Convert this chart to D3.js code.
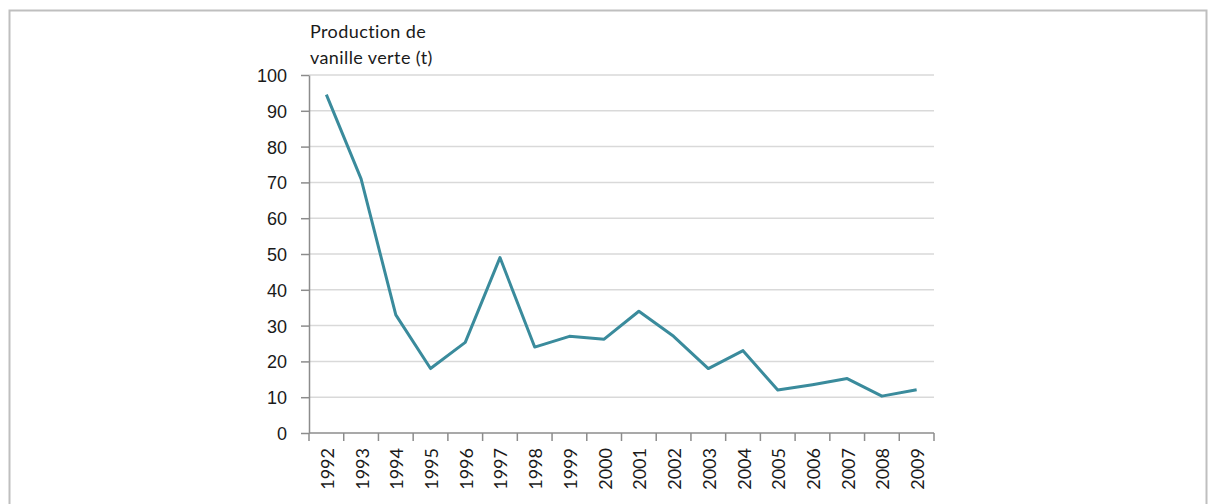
<!DOCTYPE html>
<html>
<head>
<meta charset="utf-8">
<script src="https://cdn.jsdelivr.net/npm/d3@7"></script>
<style>
    body { margin: 0; background: #fff; }
    svg { display: block; font-family: Lato, "Open Sans", sans-serif; }
    .grid line { stroke: #d9d9d9; stroke-width: 1.5; }
    .axis path, .axis line { stroke: #8c8c8c; stroke-width: 1.5; }
    .axis text { fill: #1a1a1a; font-size: 18px; }
</style>
</head>
<body>
<div id="chart"></div>
<script>
var years = ["1992", "1993", "1994", "1995", "1996", "1997", "1998", "1999", "2000",
    "2001", "2002", "2003", "2004", "2005", "2006", "2007", "2008", "2009"];
var production = [94.5, 71, 33, 18, 25.3, 49, 24, 27, 26.2,
    34, 27, 18, 23, 12, 13.5, 15.2, 10.3, 12.1];
var yTicks = [0, 10, 20, 30, 40, 50, 60, 70, 80, 90, 100];
var titleLines = ["Production de", "vanille verte (t)"];

var width = 1211, height = 504;
var margin = { left: 309, right: 277, top: 75, bottom: 71 };

var svg = d3.select("#chart").append("svg")
    .attr("width", width)
    .attr("height", height);

// outer frame
svg.append("rect")
    .attr("x", 9.5).attr("y", 10.5)
    .attr("width", 1197).attr("height", 510)
    .attr("fill", "none")
    .attr("stroke", "#bfbfbf")
    .attr("stroke-width", 2);

var x = d3.scaleBand()
    .domain(years)
    .range([margin.left, width - margin.right]);

var y = d3.scaleLinear()
    .domain([0, 100])
    .range([height - margin.bottom, margin.top]);

// gridlines
svg.append("g")
    .attr("class", "grid")
    .selectAll("line")
    .data(yTicks.slice(1))
    .enter().append("line")
    .attr("x1", margin.left)
    .attr("x2", width - margin.right)
    .attr("y1", function (d) { return y(d); })
    .attr("y2", function (d) { return y(d); });

// y axis
svg.append("g")
    .attr("class", "axis")
    .attr("transform", "translate(" + margin.left + ",0)")
    .call(d3.axisLeft(y).tickValues(yTicks).tickSize(8).tickPadding(14).tickSizeOuter(0))
    .selectAll("text").attr("dy", "0.36em");

// x axis: ticks on band boundaries
var xAxis = svg.append("g")
    .attr("class", "axis")
    .attr("transform", "translate(0," + y(0) + ")");

xAxis.append("line")
    .attr("x1", margin.left).attr("x2", width - margin.right)
    .attr("y1", 0).attr("y2", 0);

xAxis.selectAll(".tk")
    .data(years.concat(["end"]))
    .enter().append("line")
    .attr("class", "tk")
    .attr("x1", function (d, i) { return margin.left + i * x.bandwidth(); })
    .attr("x2", function (d, i) { return margin.left + i * x.bandwidth(); })
    .attr("y1", 0).attr("y2", 8);

xAxis.selectAll("text")
    .data(years)
    .enter().append("text")
    .attr("transform", function (d) {
        return "translate(" + (x(d) + x.bandwidth() / 2 + 7.5) + ",15) rotate(-90)";
    })
    .attr("text-anchor", "end")
    .text(function (d) { return d; });

// line
var line = d3.line()
    .x(function (d, i) { return x(years[i]) + x.bandwidth() / 2; })
    .y(function (d) { return y(d); });

svg.append("path")
    .datum(production)
    .attr("fill", "none")
    .attr("stroke", "#3a8b9c")
    .attr("stroke-width", 3)
    .attr("stroke-linejoin", "round")
    .attr("d", line);

// axis title
svg.append("g")
    .selectAll("text")
    .data(titleLines)
    .enter().append("text")
    .attr("x", 310)
    .attr("y", function (d, i) { return 38 + i * 26; })
    .attr("fill", "#1a1a1a")
    .style("font-size", "18px")
    .style("letter-spacing", "0.4px")
    .text(function (d) { return d; });
</script>
</body>
</html>
